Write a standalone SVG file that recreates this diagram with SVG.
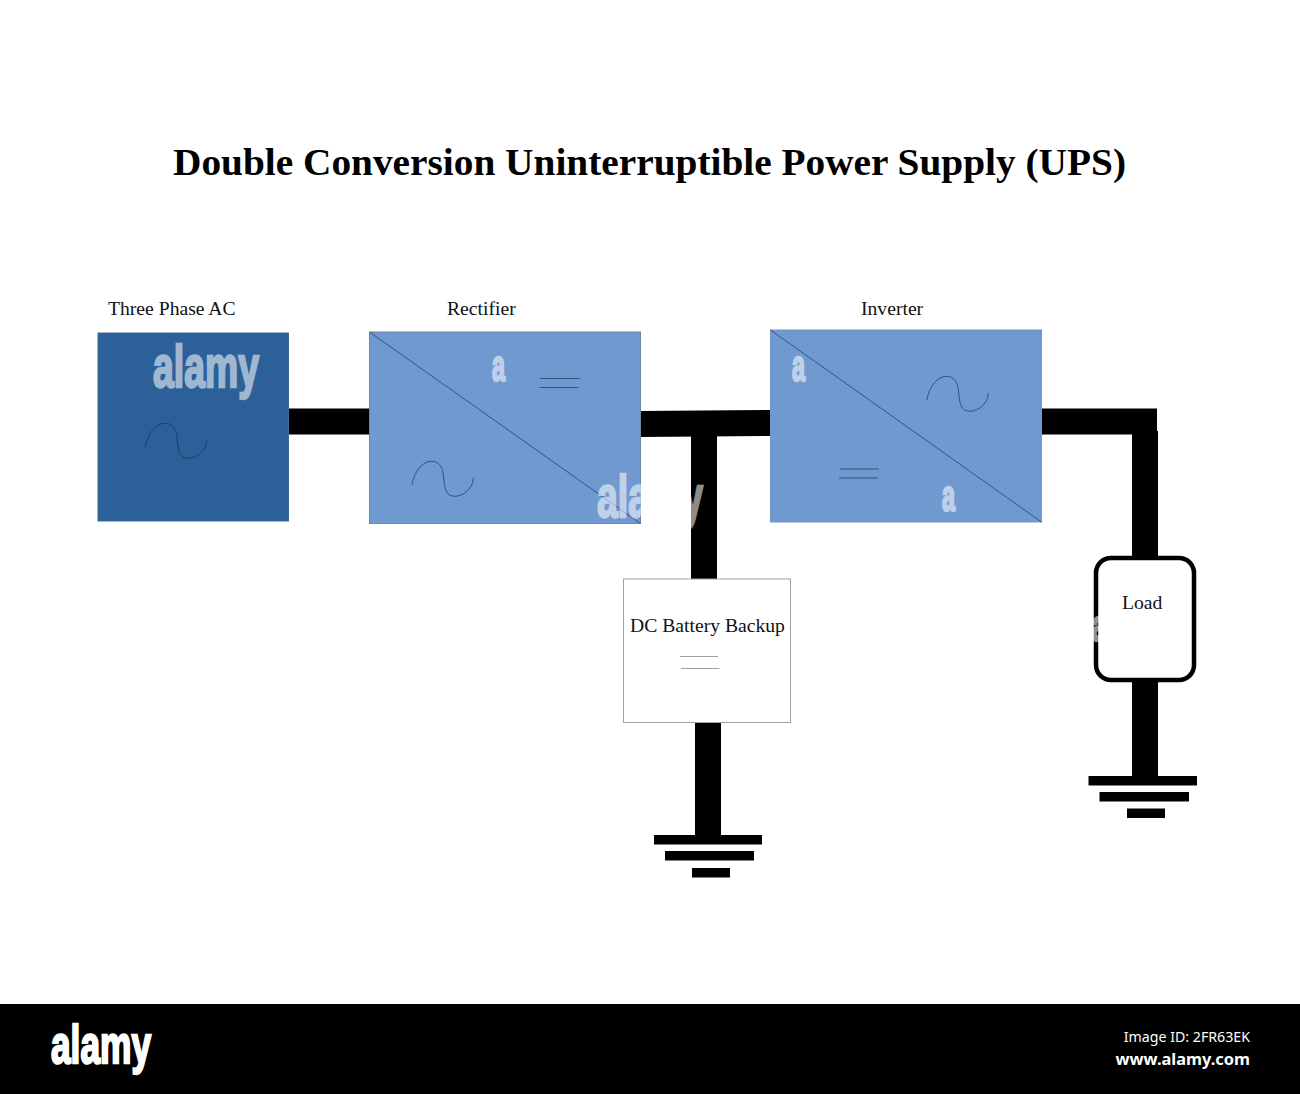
<svg xmlns="http://www.w3.org/2000/svg" width="1300" height="1094" viewBox="0 0 1300 1094">
<style>
.lbl{font-family:"Liberation Serif","Times New Roman",serif;font-size:19.650px;fill:#111}
.title{font-family:"Liberation Serif","Times New Roman",serif;font-size:38.6px;font-weight:700;fill:#000}
.wm{font-family:"Liberation Sans",Arial,sans-serif;font-weight:700;fill:#fff;stroke:#fff;stroke-width:2.400px}
.wire{fill:#000}
.conv{fill:#7099cf;stroke:#6b86a8;stroke-width:1}
.thin{fill:none;stroke:#2f5585;stroke-width:1}
.grey{fill:none;stroke:#a0a0a0;stroke-width:1}
.sm{font-family:"Noto Sans","Open Sans",sans-serif;fill:#fff}
</style>
<defs>
<path id="sine" d="M145.300 447C148 433 156 423.300 165 423.300C172 423.300 176 428 177 438C178 450 179 458.300 188.300 458.300C197 458.300 207 450 206.700 440"/>
</defs>
<rect width="1300" height="1094" fill="#fff"/>
<text id="title" class="title" x="173" y="175" textLength="953" lengthAdjust="spacingAndGlyphs">Double Conversion Uninterruptible Power Supply (UPS)</text>
<g id="connectors">
<rect class="wire" x="288" y="408.500" width="82" height="26"/>
<polygon class="wire" points="640,411 771,410 771,436 640,437"/>
<rect class="wire" x="691" y="436" width="26" height="144"/>
<rect class="wire" x="695" y="722" width="26" height="114"/>
<rect class="wire" x="654" y="835" width="108" height="9.500"/>
<rect class="wire" x="665" y="851" width="89" height="9.500"/>
<rect class="wire" x="692" y="868" width="38" height="9.500"/>
<rect class="wire" x="1041" y="408.500" width="116" height="26"/>
<rect class="wire" x="1132" y="431" width="26" height="127"/>
<rect class="wire" x="1132" y="681" width="26" height="96"/>
<rect class="wire" x="1088.500" y="776" width="108.500" height="9.500"/>
<rect class="wire" x="1099.500" y="792" width="89.500" height="9.500"/>
<rect class="wire" x="1127" y="808.500" width="38" height="9.500"/>
</g>
<g id="three-phase-ac">
<rect x="98" y="333" width="190.500" height="188" fill="#2b6099" stroke="#3d6b9c"/>
<use href="#sine" class="thin" style="stroke:#1f3f66"/>
<text class="lbl" x="108" y="315">Three Phase AC</text>
</g>
<g id="rectifier">
<rect class="conv" x="369.500" y="332" width="271" height="191.500"/>
<line class="thin" x1="369.500" y1="332" x2="640.500" y2="523.500"/>
<use href="#sine" class="thin" transform="translate(266.500 38)"/>
<line class="thin" x1="540" y1="378.500" x2="579.500" y2="378.500"/>
<line class="thin" x1="539.500" y1="387.500" x2="578.500" y2="387.500"/>
<text class="lbl" x="447" y="315">Rectifier</text>
</g>
<g id="inverter">
<rect class="conv" x="770.500" y="330" width="271" height="192" style="stroke:#6f97c8"/>
<line class="thin" x1="770.500" y1="330" x2="1041.500" y2="522"/>
<use href="#sine" class="thin" transform="translate(781.500 -47)"/>
<line class="thin" x1="840" y1="469" x2="879" y2="469"/>
<line class="thin" x1="839" y1="478" x2="878" y2="478"/>
<text class="lbl" x="861" y="315">Inverter</text>
</g>
<g id="dc-battery-backup">
<rect x="623.500" y="579" width="167" height="143.500" fill="#fff" stroke="#a0a0a0"/>
<text class="lbl" x="630" y="632">DC Battery Backup</text>
<line class="grey" x1="680" y1="656.500" x2="718" y2="656.500"/>
<line class="grey" x1="681" y1="668.500" x2="719.500" y2="668.500"/>
</g>
<g id="load">
<rect x="1096" y="558" width="98" height="122" rx="15" ry="15" fill="#fff" stroke="#000" stroke-width="4.500"/>
<text class="lbl" x="1122" y="609">Load</text>
</g>
<g id="watermarks">
<g opacity=".55">
<text class="wm" x="153" y="387" font-size="59" textLength="106" lengthAdjust="spacingAndGlyphs">alamy</text>
<text class="wm" x="597" y="517" font-size="59" textLength="106" lengthAdjust="spacingAndGlyphs">alamy</text>
<text class="wm" x="492" y="381" font-size="44" textLength="13" lengthAdjust="spacingAndGlyphs">a</text>
<text class="wm" x="792" y="381" font-size="44" textLength="13" lengthAdjust="spacingAndGlyphs">a</text>
<text class="wm" x="942" y="511" font-size="44" textLength="13" lengthAdjust="spacingAndGlyphs">a</text>
<text class="wm" x="1092" y="641" font-size="44" textLength="13" lengthAdjust="spacingAndGlyphs">a</text>
</g>
</g>
<g id="footer">
<rect x="0" y="1004" width="1300" height="90" fill="#000"/>
<text class="wm" x="51" y="1063" font-size="54" textLength="100" lengthAdjust="spacingAndGlyphs">alamy</text>
<text class="sm" x="1250" y="1041.500" text-anchor="end" font-size="14.200">Image ID: 2FR63EK</text>
<text class="sm" x="1250" y="1065" text-anchor="end" font-size="16.400" font-weight="700">www.alamy.com</text>
</g>
</svg>
